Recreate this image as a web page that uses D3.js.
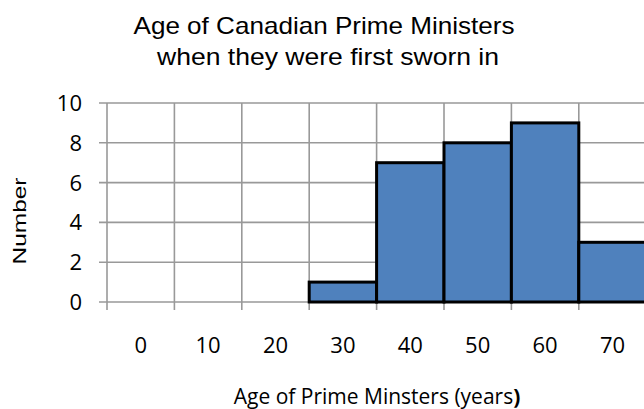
<!DOCTYPE html>
<html>
<head>
<meta charset="utf-8">
<script src="https://cdn.jsdelivr.net/npm/d3@7"></script>
<style>
  body { margin: 0; background: #fff; }
  svg { display: block; }
  .grid line { stroke: #999; stroke-width: 1.6; }
  .tick-label { font-family: "Open Sans", "Noto Sans", sans-serif; font-size: 22px; fill: #000; }
</style>
</head>
<body>
<script>
// chart data
var categories = ["0", "10", "20", "30", "40", "50", "60", "70"];
var counts = [0, 0, 0, 1, 7, 8, 9, 3];
var yTicks = [0, 2, 4, 6, 8, 10];

var w = 644,
    h = 409;
var svg = d3.select("body").append("svg").attr("width", w).attr("height", h);

var x = d3.scaleBand().domain(categories).range([107, 107 + 8 * 67.4]).padding(0);
var y = d3.scaleLinear().domain([0, 10]).range([302, 103]);

// title (two lines, Arial-like)
var title = svg.append("text")
  .attr("text-anchor", "middle")
  .style("font-family", "'Liberation Sans', Arial, sans-serif")
  .style("font-size", "24px");
title.append("tspan").attr("x", 324).attr("y", 34)
  .attr("textLength", 381).attr("lengthAdjust", "spacingAndGlyphs")
  .text("Age of Canadian Prime Ministers");
title.append("tspan").attr("x", 328).attr("y", 65)
  .attr("textLength", 342).attr("lengthAdjust", "spacingAndGlyphs")
  .text("when they were first sworn in");

// grid
var grid = svg.append("g").classed("grid", true);
grid.selectAll("line.h").data(yTicks).enter().append("line")
  .attr("class", "h")
  .attr("x1", 99).attr("x2", w)
  .attr("y1", function(d) { return y(d); })
  .attr("y2", function(d) { return y(d); });

var xEdges = categories.map(function(c) { return x(c); });
xEdges.push(x.range()[1]);
grid.selectAll("line.v").data(xEdges).enter().append("line")
  .attr("class", "v")
  .attr("x1", function(d) { return d; }).attr("x2", function(d) { return d; })
  .attr("y1", y(10)).attr("y2", y(0) + 8);

// bars
svg.append("g").selectAll("rect")
  .data(counts.map(function(v, i) { return { cat: categories[i], v: v }; }).filter(function(d) { return d.v > 0; }))
  .enter().append("rect")
  .attr("x", function(d) { return x(d.cat); })
  .attr("y", function(d) { return y(d.v); })
  .attr("width", x.bandwidth())
  .attr("height", function(d) { return y(0) - y(d.v); })
  .attr("fill", "#4F81BD")
  .attr("stroke", "#000")
  .attr("stroke-width", 3);

// y tick labels
svg.append("g").selectAll("text").data(yTicks).enter().append("text")
  .attr("class", "tick-label")
  .attr("x", 82)
  .attr("y", function(d) { return y(d); })
  .attr("dy", "0.36em")
  .attr("text-anchor", "end")
  .text(function(d) { return d; });

// x tick labels
svg.append("g").selectAll("text").data(categories).enter().append("text")
  .attr("class", "tick-label")
  .attr("x", function(d) { return x(d) + x.bandwidth() / 2; })
  .attr("y", 353)
  .attr("text-anchor", "middle")
  .text(function(d) { return d; });

// axis titles
svg.append("text")
  .attr("transform", "translate(26,221) rotate(-90)")
  .attr("text-anchor", "middle")
  .attr("textLength", 87).attr("lengthAdjust", "spacingAndGlyphs")
  .style("font-family", "'Liberation Sans', Arial, sans-serif")
  .style("font-size", "19px")
  .text("Number");

var xt = svg.append("text")
  .attr("x", 377).attr("y", 404)
  .attr("text-anchor", "middle")
  .style("font-family", "'Open Sans', 'Noto Sans', sans-serif")
  .style("font-size", "21px");
xt.append("tspan").text("Age of Prime Minsters (years");
xt.append("tspan").style("font-weight", "bold").text(")");
</script>
</body>
</html>
